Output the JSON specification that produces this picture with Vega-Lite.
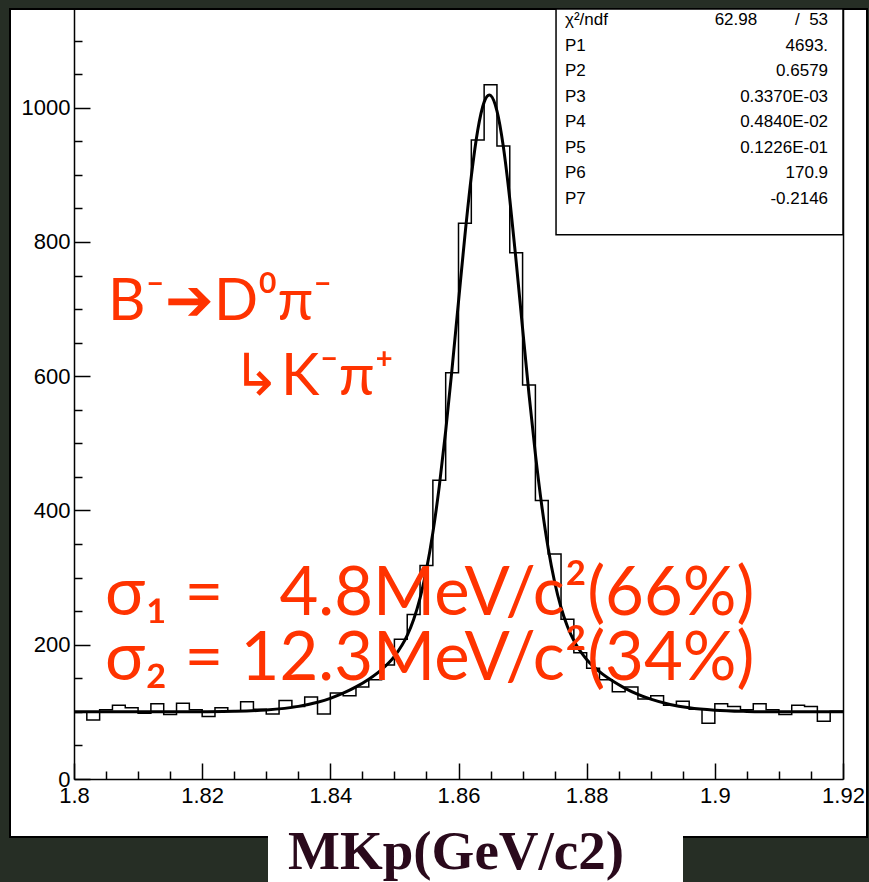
{
  "$schema": "https://vega.github.io/schema/vega-lite/v6.json",
  "width": 857,
  "height": 828,
  "autosize": "none",
  "padding": {"left": 10, "top": 9, "right": 2, "bottom": 45},
  "background": "#262e25",
  "config": {
    "view": {"stroke": "black", "strokeWidth": 2, "fill": "white"},
    "font": "Liberation Sans",
    "axis": {"grid": false, "domainColor": "black", "tickColor": "black", "labelColor": "black", "labelFont": "Liberation Sans", "labelFontSize": 22, "domainWidth": 1.5, "tickWidth": 1.5, "labelFlush": false, "labelOverlap": false, "zindex": 1}
  },
  "layer": [
    {
      "layer": [
        {
          "data": {"values": [
            {"lo": 1.800, "count": 100}, {"lo": 1.802, "count": 88}, {"lo": 1.804, "count": 103}, {"lo": 1.806, "count": 110},
            {"lo": 1.808, "count": 106}, {"lo": 1.810, "count": 98}, {"lo": 1.812, "count": 112}, {"lo": 1.814, "count": 96},
            {"lo": 1.816, "count": 113}, {"lo": 1.818, "count": 103}, {"lo": 1.820, "count": 93}, {"lo": 1.822, "count": 106},
            {"lo": 1.824, "count": 101}, {"lo": 1.826, "count": 115}, {"lo": 1.828, "count": 104}, {"lo": 1.830, "count": 97},
            {"lo": 1.832, "count": 117}, {"lo": 1.834, "count": 108}, {"lo": 1.836, "count": 122}, {"lo": 1.838, "count": 97},
            {"lo": 1.840, "count": 128}, {"lo": 1.842, "count": 124}, {"lo": 1.844, "count": 137}, {"lo": 1.846, "count": 148},
            {"lo": 1.848, "count": 170}, {"lo": 1.850, "count": 208}, {"lo": 1.852, "count": 245}, {"lo": 1.854, "count": 318},
            {"lo": 1.856, "count": 445}, {"lo": 1.858, "count": 605}, {"lo": 1.860, "count": 828}, {"lo": 1.862, "count": 952},
            {"lo": 1.864, "count": 1034}, {"lo": 1.866, "count": 943}, {"lo": 1.868, "count": 784}, {"lo": 1.870, "count": 587},
            {"lo": 1.872, "count": 415}, {"lo": 1.874, "count": 335}, {"lo": 1.876, "count": 238}, {"lo": 1.878, "count": 188},
            {"lo": 1.880, "count": 165}, {"lo": 1.882, "count": 148}, {"lo": 1.884, "count": 130}, {"lo": 1.886, "count": 137},
            {"lo": 1.888, "count": 119}, {"lo": 1.890, "count": 124}, {"lo": 1.892, "count": 110}, {"lo": 1.894, "count": 116},
            {"lo": 1.896, "count": 104}, {"lo": 1.898, "count": 83}, {"lo": 1.900, "count": 112}, {"lo": 1.902, "count": 108},
            {"lo": 1.904, "count": 103}, {"lo": 1.906, "count": 112}, {"lo": 1.908, "count": 103}, {"lo": 1.910, "count": 96},
            {"lo": 1.912, "count": 110}, {"lo": 1.914, "count": 108}, {"lo": 1.916, "count": 86}, {"lo": 1.918, "count": 101},
            {"lo": 1.920, "count": 101}
          ]},
          "mark": {"type": "line", "interpolate": "step-after", "color": "black", "strokeWidth": 1.5},
          "encoding": {
            "x": {"field": "lo", "type": "quantitative", "scale": {"domain": [1.8, 1.92], "range": [64, 833], "nice": false, "zero": false},
                  "axis": {"orient": "bottom", "offset": -58, "values": [1.8, 1.82, 1.84, 1.86, 1.88, 1.9, 1.92], "ticks": false, "domain": true, "labelPadding": 6, "format": "~g", "title": null}},
            "y": {"field": "count", "type": "quantitative", "scale": {"domain": [0, 1147], "range": [770, 0], "nice": false},
                  "axis": {"orient": "left", "offset": -64, "values": [0, 200, 400, 600, 800, 1000], "ticks": false, "domain": true, "labelPadding": 4, "format": "d", "title": null}}
          }
        },
        {
          "data": {"values": [
            {"m": 1.800, "f": 100.0}, {"m": 1.805, "f": 100.0}, {"m": 1.810, "f": 100.0}, {"m": 1.815, "f": 100.0},
            {"m": 1.820, "f": 100.2}, {"m": 1.825, "f": 100.8}, {"m": 1.830, "f": 102.8}, {"m": 1.835, "f": 108.2},
            {"m": 1.838, "f": 114.4}, {"m": 1.840, "f": 120.2}, {"m": 1.842, "f": 127.8}, {"m": 1.844, "f": 137.2},
            {"m": 1.846, "f": 148.7}, {"m": 1.848, "f": 163.0}, {"m": 1.850, "f": 182.6}, {"m": 1.852, "f": 213.8},
            {"m": 1.853, "f": 237.5}, {"m": 1.854, "f": 269.5}, {"m": 1.855, "f": 311.9}, {"m": 1.856, "f": 367.0},
            {"m": 1.857, "f": 435.9}, {"m": 1.858, "f": 518.4}, {"m": 1.859, "f": 611.8}, {"m": 1.860, "f": 711.2},
            {"m": 1.861, "f": 809.4}, {"m": 1.862, "f": 897.6}, {"m": 1.863, "f": 966.4}, {"m": 1.864, "f": 1008.3},
            {"m": 1.8648, "f": 1019.0}, {"m": 1.865, "f": 1018.3}, {"m": 1.866, "f": 995.2}, {"m": 1.867, "f": 941.7},
            {"m": 1.868, "f": 864.0}, {"m": 1.869, "f": 770.8}, {"m": 1.870, "f": 671.1}, {"m": 1.871, "f": 573.4},
            {"m": 1.872, "f": 483.9}, {"m": 1.873, "f": 406.7}, {"m": 1.874, "f": 343.3}, {"m": 1.875, "f": 293.5},
            {"m": 1.876, "f": 255.5}, {"m": 1.877, "f": 227.2}, {"m": 1.878, "f": 206.2}, {"m": 1.880, "f": 178.1},
            {"m": 1.882, "f": 159.9}, {"m": 1.884, "f": 146.2}, {"m": 1.886, "f": 135.1}, {"m": 1.888, "f": 126.1},
            {"m": 1.890, "f": 118.9}, {"m": 1.893, "f": 111.1}, {"m": 1.896, "f": 106.1}, {"m": 1.900, "f": 102.5},
            {"m": 1.905, "f": 100.7}, {"m": 1.910, "f": 100.1}, {"m": 1.915, "f": 100.0}, {"m": 1.920, "f": 100.0}
          ]},
          "mark": {"type": "line", "interpolate": "monotone", "color": "black", "strokeWidth": 3},
          "encoding": {
            "x": {"field": "m", "type": "quantitative", "scale": {"domain": [1.8, 1.92], "range": [64, 833], "nice": false, "zero": false},
                  "axis": {"orient": "bottom", "offset": -58, "values": [1.8, 1.82, 1.84, 1.86, 1.88, 1.9, 1.92], "ticks": true, "tickSize": -16, "labels": false, "domain": false, "title": null}},
            "y": {"field": "f", "type": "quantitative", "scale": {"domain": [0, 1147], "range": [770, 0], "nice": false},
                  "axis": {"orient": "left", "offset": -64, "values": [0, 200, 400, 600, 800, 1000], "ticks": true, "tickSize": -16, "labels": false, "domain": false, "title": null}}
          }
        },
        {
          "data": {"values": [{"ndf": 53}]},
          "mark": {"type": "rect", "stroke": "black", "strokeWidth": 1.5},
          "encoding": {
            "x": {"datum": 1.87522, "type": "quantitative", "scale": {"domain": [1.8, 1.92], "range": [64, 833], "nice": false, "zero": false},
                  "axis": {"orient": "bottom", "offset": -58, "values": [1.805, 1.81, 1.815, 1.825, 1.83, 1.835, 1.845, 1.85, 1.855, 1.865, 1.87, 1.875, 1.885, 1.89, 1.895, 1.905, 1.91, 1.915], "ticks": true, "tickSize": -8, "labels": false, "domain": false, "title": null}},
            "x2": {"datum": 1.92},
            "y": {"datum": 810.7, "type": "quantitative", "scale": {"domain": [0, 1147], "range": [770, 0], "nice": false},
                  "axis": {"orient": "left", "offset": -64, "values": [50, 100, 150, 250, 300, 350, 450, 500, 550, 650, 700, 750, 850, 900, 950, 1050, 1100], "ticks": true, "tickSize": -8, "labels": false, "domain": false, "title": null}},
            "y2": {"datum": 1147},
            "fill": {"field": "ndf", "type": "quantitative", "scale": {"domain": [0, 100], "range": ["white", "white"]},
                     "legend": {"orient": "none", "legendX": 258, "legendY": 797, "direction": "horizontal", "gradientLength": 375, "gradientThickness": 1, "gradientStrokeWidth": 0, "labels": false,
                                "title": "MKp(GeV/c2)", "titleFont": "Liberation Serif", "titleFontSize": 55, "titleFontWeight": "bold", "titleColor": "#2a0a1c", "titleLimit": 600, "titleAnchor": "start", "titlePadding": 0,
                                "fillColor": "white", "padding": 20}}
          }
        },
        {
          "data": {"values": [{"label": "B⁻➔D⁰π⁻"}]},
          "mark": {"type": "text", "align": "left", "baseline": "alphabetic", "font": "Lato", "fontWeight": 400, "fontSize": 58, "color": "#ff3300"},
          "encoding": {
            "x": {"datum": 1.80531, "type": "quantitative", "axis": null},
            "y": {"datum": 683.7, "type": "quantitative",
                  "axis": {"orient": "right", "offset": -24, "ticks": false, "labels": false, "domain": true, "title": null}},
            "text": {"field": "label"}
          }
        },
        {
          "data": {"values": [{"label": "↳K⁻π⁺"}]},
          "mark": {"type": "text", "align": "left", "baseline": "alphabetic", "font": "Lato", "fontWeight": 400, "fontSize": 58, "color": "#ff3300"},
          "encoding": {
            "x": {"datum": 1.82466, "type": "quantitative", "axis": null},
            "y": {"datum": 572.0, "type": "quantitative", "axis": null},
            "text": {"field": "label"}
          }
        },
        {
          "data": {"values": [{"label": "σ₁ = \u20074.8MeV/c²(66%)"}]},
          "mark": {"type": "text", "align": "left", "baseline": "alphabetic", "font": "Lato", "fontWeight": 400, "fontSize": 67, "color": "#ff3300"},
          "encoding": {
            "x": {"datum": 1.80484, "type": "quantitative", "axis": null},
            "y": {"datum": 244.3, "type": "quantitative", "axis": null},
            "text": {"field": "label"}
          }
        },
        {
          "data": {"values": [{"label": "σ₂ = 12.3MeV/c²(34%)"}]},
          "mark": {"type": "text", "align": "left", "baseline": "alphabetic", "font": "Lato", "fontWeight": 400, "fontSize": 67, "color": "#ff3300"},
          "encoding": {
            "x": {"datum": 1.80484, "type": "quantitative", "axis": null},
            "y": {"datum": 147.5, "type": "quantitative", "axis": null},
            "text": {"field": "label"}
          }
        }
      ],
      "resolve": {"axis": {"x": "independent", "y": "independent"}}
    },
    {
      "data": {"values": [
        {"name": "χ²/ndf", "value": "62.98\u00a0\u00a0\u00a0\u00a0\u00a0\u00a0\u00a0\u00a0/\u00a0\u00a053"},
        {"name": "P1", "value": "4693."},
        {"name": "P2", "value": "0.6579"},
        {"name": "P3", "value": "0.3370E-03"},
        {"name": "P4", "value": "0.4840E-02"},
        {"name": "P5", "value": "0.1226E-01"},
        {"name": "P6", "value": "170.9"},
        {"name": "P7", "value": "-0.2146"}
      ]},
      "layer": [
        {
          "mark": {"type": "text", "align": "left", "baseline": "middle", "font": "Liberation Sans", "fontSize": 17, "color": "black"},
          "encoding": {
            "x": {"datum": 1.87662, "type": "quantitative", "axis": null},
            "y": {"field": "name", "type": "nominal", "sort": null, "scale": {"type": "point", "range": [11, 190], "padding": 0}, "axis": null},
            "text": {"field": "name"}
          }
        },
        {
          "mark": {"type": "text", "align": "right", "baseline": "middle", "font": "Liberation Sans", "fontSize": 17, "color": "black"},
          "encoding": {
            "x": {"datum": 1.91767, "type": "quantitative", "axis": null},
            "y": {"field": "name", "type": "nominal", "sort": null, "scale": {"type": "point", "range": [11, 190], "padding": 0}, "axis": null},
            "text": {"field": "value"}
          }
        }
      ]
    }
  ],
  "resolve": {"scale": {"y": "independent"}, "axis": {"x": "independent", "y": "independent"}}
}
